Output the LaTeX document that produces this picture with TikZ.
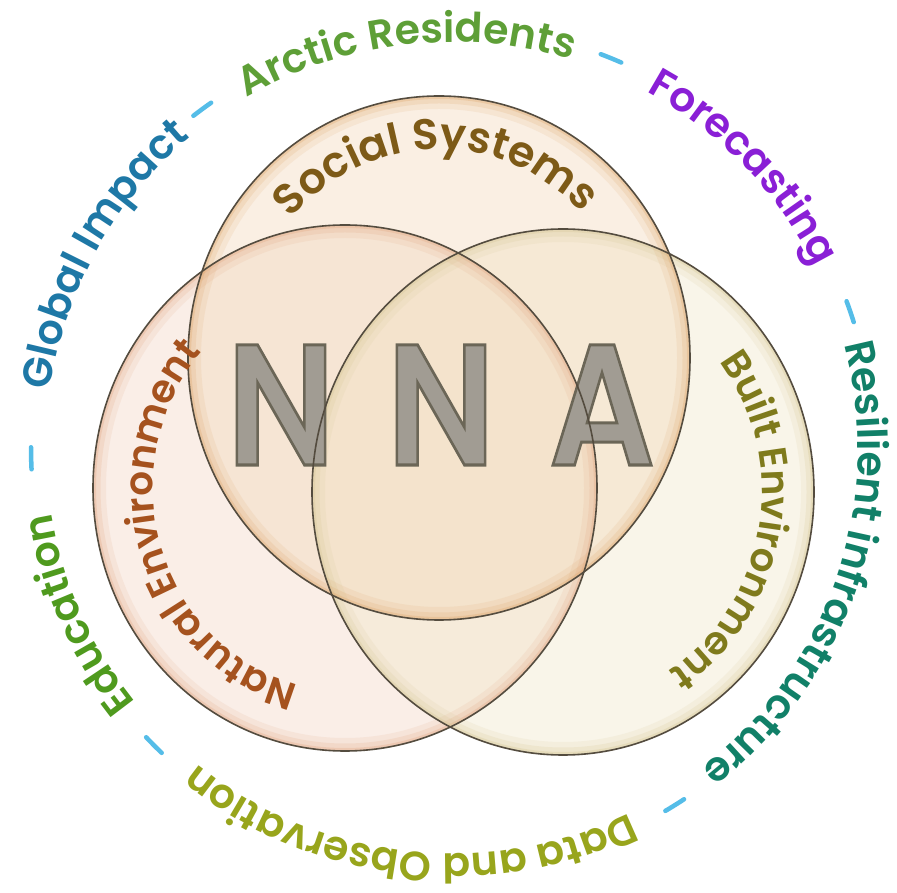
\documentclass[tikz,border=0pt]{standalone}
\usepackage{fontspec}
\setmainfont{Poppins}
\newfontfamily\semib{Poppins SemiBold}
\usetikzlibrary{decorations.text}

\definecolor{natfill}{HTML}{F3D6C4}
\definecolor{natrim}{HTML}{E3A985}
\definecolor{socfill}{HTML}{F2D7B6}
\definecolor{socrim}{HTML}{E0A970}
\definecolor{bltfill}{HTML}{F0E8C8}
\definecolor{bltrim}{HTML}{D6C796}
\definecolor{circline}{HTML}{544C3F}
\definecolor{nnafill}{HTML}{A19C93}
\definecolor{soccol}{HTML}{7D5A17}
\definecolor{natcol}{HTML}{A5521E}
\definecolor{bltcol}{HTML}{7F7A1C}
\definecolor{globcol}{HTML}{1E78A6}
\definecolor{arccol}{HTML}{5E9F37}
\definecolor{forecol}{HTML}{8A1FD6}
\definecolor{rescol}{HTML}{118068}
\definecolor{datacol}{HTML}{98A51C}
\definecolor{educol}{HTML}{4F9A1E}
\definecolor{dashblue}{HTML}{55BDE8}

\newcommand\ringfont{\semib\fontsize{41}{41}\selectfont}
\newcommand\innerfont{\semib\fontsize{39}{39}\selectfont}
\newcommand\socfont{\semib\fontsize{43}{43}\selectfont}
\newcommand\outl[1]{\special{pdf:literal direct 2 Tr 3 w 0.42 0.40 0.34 RG}#1\special{pdf:literal direct 0 Tr}}

\newcommand\ringphrase[3]{%
  \path[decorate, decoration={text along path, text align=center,
      text={|\ringfont\color{#2}|#3}}]
    ([shift={(#1+50:406)}]ring) arc[start angle=#1+50, end angle=#1-50, radius=406];}

\tikzset{
  circedge/.style={draw=circline, line width=1.6},
  dashline/.style={draw=dashblue, line width=4.5, line cap=round},
  nna/.style={font=\semib\fontsize{172}{172}\selectfont, text=nnafill, inner sep=0, anchor=base}
}

\begin{document}
\begin{tikzpicture}[x=1pt,y=1pt]
\useasboundingbox (0,0) rectangle (897,892);
\fill[white] (0,0) rectangle (897,892);

\coordinate (ring) at (452,444);
\coordinate (cs) at (439,534);
\coordinate (cn) at (345,404);
\coordinate (cb) at (563,400);

% fills
\path[fill=natfill, fill opacity=0.4] (cn) ellipse [x radius=252, y radius=263];
\path[fill=bltfill, fill opacity=0.4] (cb) ellipse [x radius=251, y radius=263];
\path[fill=socfill, fill opacity=0.38] (cs) ellipse [x radius=251, y radius=262];

% rims
\begin{scope}
  \clip (cn) ellipse [x radius=252, y radius=263];
  \foreach \w/\o in {26/0.14, 15/0.2, 6/0.32}
    \draw[natrim, line width=\w, opacity=\o] (cn) ellipse [x radius=252, y radius=263];
\end{scope}
\begin{scope}
  \clip (cb) ellipse [x radius=251, y radius=263];
  \foreach \w/\o in {26/0.14, 15/0.2, 6/0.32}
    \draw[bltrim, line width=\w, opacity=\o] (cb) ellipse [x radius=251, y radius=263];
\end{scope}
\begin{scope}
  \clip (cs) ellipse [x radius=251, y radius=262];
  \foreach \w/\o in {26/0.14, 15/0.2, 6/0.32}
    \draw[socrim, line width=\w, opacity=\o] (cs) ellipse [x radius=251, y radius=262];
\end{scope}

% NNA
\node[nna] (n1) at (281,427) {\scalebox{0.86}[1]{\outl{N}}};
\node[nna] (n2) at (441,427) {\scalebox{0.86}[1]{\outl{N}}};
\node[nna] (a3) at (602,427) {\scalebox{0.86}[1]{\outl{A}}};

% outlines
\draw[circedge] (cn) ellipse [x radius=252, y radius=263];
\draw[circedge] (cb) ellipse [x radius=251, y radius=263];
\draw[circedge] (cs) ellipse [x radius=251, y radius=262];

% inner labels
\path[decorate, decoration={text along path, text align=center,
    text={|\socfont\color{soccol}|Social Systems}}]
  ([shift={(151:198 and 209)}]cs) arc[start angle=151, end angle=31, x radius=198, y radius=209];
\path[decorate, decoration={text along path, text align=center,
    text={|\innerfont\color{natcol}|Natural Environment}}]
  ([shift={(257:192 and 203)}]cn) arc[start angle=257, end angle=137, x radius=192, y radius=203];
\path[decorate, decoration={text along path, text align=center,
    text={|\innerfont\color{bltcol}|Built Environment}}]
  ([shift={(50:199 and 211)}]cb) arc[start angle=50, end angle=-70, x radius=199, y radius=211];

% outer ring
\ringphrase{151}{globcol}{Global Impact}
\ringphrase{96.6}{arccol}{Arctic Residents}
\ringphrase{43.9}{forecol}{Forecasting}
\ringphrase{-18.7}{rescol}{Resilient infrastructure}
\ringphrase{-96.5}{datacol}{Data and Observation}
\ringphrase{-156}{educol}{Education}

\foreach \a in {181.4,126.4,67.8,18.9,-58.05,-135.1}
  \draw[dashline] ([shift={(\a+1.5:421)}]ring) arc[start angle=\a+1.5, end angle=\a-1.5, radius=421];
\end{tikzpicture}
\end{document}
